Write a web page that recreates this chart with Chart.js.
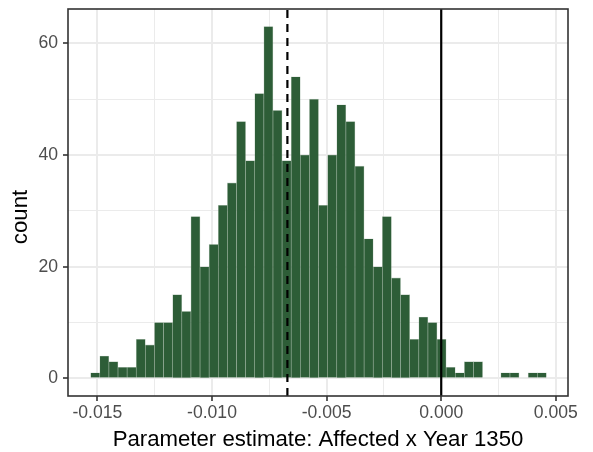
<!DOCTYPE html>
<html>
<head>
<meta charset="utf-8">
<script src="https://cdn.jsdelivr.net/npm/chart.js@4.4.1/dist/chart.umd.min.js"></script>
<style>
  html, body { margin: 0; padding: 0; background: #ffffff; }
  #wrap { width: 593px; height: 452px; }
</style>
</head>
<body>
<div id="wrap"><canvas id="histChart" width="593" height="452"></canvas></div>
<script>
// Histogram counts per bin, left to right
const binCounts = [
  1, 4, 3, 2, 2, 7, 6, 10, 10, 15,
  12, 29, 20, 24, 31, 35, 46, 39, 51, 63,
  48, 39, 54, 40, 50, 31, 40, 49, 46, 38,
  25, 20, 29, 18, 15, 7, 11, 10, 7, 2,
  1, 3, 3, 0, 0, 1, 1, 0, 1, 1
];
const binStart = -0.015292;   // left edge of first bin
const binWidth = 0.0003976;

const meanLine = -0.00671;    // dashed reference line
const zeroLine = 0;           // solid reference line

const xMajorTicks = [-0.015, -0.010, -0.005, 0.000, 0.005];
const xMinorTicks = [-0.0125, -0.0075, -0.0025, 0.0025];
const yMajorTicks = [0, 20, 40, 60];
const yMinorTicks = [10, 30, 50];

const xLimits = [-0.01628, 0.00553];
const yLimits = [-3.15, 66.15];

const xTitle = 'Parameter estimate: Affected x Year 1350';
const yTitle = 'count';

const FONT = '"Liberation Sans", Arial, Helvetica, sans-serif';

function buildTicks(major, minor) {
  const all = major.map(v => ({ value: v, major: true }))
    .concat(minor.map(v => ({ value: v, major: false })));
  return all.sort((a, b) => a.value - b.value);
}

const points = binCounts.map((c, i) => ({ x: binStart + (i + 0.5) * binWidth, y: c }));

// reference lines + full panel border
const panelPlugin = {
  id: 'panelPlugin',
  afterDatasetsDraw(chart) {
    const { ctx, chartArea, scales } = chart;
    ctx.save();
    ctx.strokeStyle = '#000000';
    ctx.lineWidth = 2.2;

    let px = scales.x.getPixelForValue(meanLine);
    ctx.setLineDash([8, 6]);
    ctx.beginPath();
    ctx.moveTo(px, chartArea.bottom);
    ctx.lineTo(px, chartArea.top);
    ctx.stroke();

    px = scales.x.getPixelForValue(zeroLine);
    ctx.setLineDash([]);
    ctx.beginPath();
    ctx.moveTo(px, chartArea.bottom);
    ctx.lineTo(px, chartArea.top);
    ctx.stroke();

    ctx.strokeStyle = '#333333';
    ctx.lineWidth = 1.6;
    ctx.strokeRect(chartArea.left, chartArea.top,
      chartArea.right - chartArea.left, chartArea.bottom - chartArea.top);
    ctx.restore();
  },
  afterDraw(chart) {
    // y axis title, sits a bit below the panel middle in the original
    const { ctx } = chart;
    ctx.save();
    ctx.translate(21, 217);
    ctx.rotate(-Math.PI / 2);
    ctx.fillStyle = '#000000';
    ctx.font = '22.2px ' + FONT;
    ctx.textAlign = 'center';
    ctx.textBaseline = 'middle';
    ctx.fillText(yTitle, 0, 0);
    ctx.restore();
  }
};

const ctx = document.getElementById('histChart').getContext('2d');
new Chart(ctx, {
  type: 'bar',
  data: {
    datasets: [{
      data: points,
      backgroundColor: '#2d5d37',
      borderColor: 'rgba(110, 145, 115, 0.45)',
      borderWidth: 0.6,
      barPercentage: 1,
      categoryPercentage: 1
    }]
  },
  plugins: [panelPlugin],
  options: {
    responsive: false,
    animation: false,
    layout: { padding: { top: 9, right: 25, left: 0, bottom: 0 } },
    plugins: {
      legend: { display: false },
      tooltip: { enabled: false }
    },
    scales: {
      x: {
        type: 'linear',
        min: xLimits[0],
        max: xLimits[1],
        offset: false,
        afterBuildTicks: (axis) => { axis.ticks = buildTicks(xMajorTicks, xMinorTicks); },
        afterFit: (axis) => {
          axis.height = 56;
          axis.paddingLeft = 0;
          axis.paddingRight = 0;
        },
        border: { display: false },
        grid: {
          offset: false,
          color: '#EBEBEB',
          lineWidth: (c) => (c.tick && c.tick.major ? 2 : 1),
          tickColor: (c) => (c.tick && c.tick.major ? '#333333' : 'rgba(0,0,0,0)'),
          tickWidth: 1.6,
          tickLength: 5
        },
        ticks: {
          autoSkip: false,
          maxRotation: 0,
          padding: 2,
          color: '#4D4D4D',
          font: { family: FONT, size: 17.6 },
          callback: function(value, index, ticks) {
            return ticks[index].major ? Number(value).toFixed(3) : '';
          }
        },
        title: {
          display: true,
          text: xTitle,
          color: '#000000',
          font: { family: FONT, size: 22.2, lineHeight: 1 },
          padding: { top: 0, bottom: 1 }
        }
      },
      y: {
        type: 'linear',
        min: yLimits[0],
        max: yLimits[1],
        afterBuildTicks: (axis) => { axis.ticks = buildTicks(yMajorTicks, yMinorTicks); },
        afterFit: (axis) => {
          axis.width = 68;
          axis.paddingTop = 0;
          axis.paddingBottom = 0;
        },
        border: { display: false },
        grid: {
          color: '#EBEBEB',
          lineWidth: (c) => (c.tick && c.tick.major ? 2 : 1),
          tickColor: (c) => (c.tick && c.tick.major ? '#333333' : 'rgba(0,0,0,0)'),
          tickWidth: 1.6,
          tickLength: 5
        },
        ticks: {
          autoSkip: false,
          padding: 5,
          color: '#4D4D4D',
          font: { family: FONT, size: 17.6 },
          callback: function(value, index, ticks) {
            return ticks[index].major ? String(value) : '';
          }
        }
      }
    }
  }
});
</script>
</body>
</html>
